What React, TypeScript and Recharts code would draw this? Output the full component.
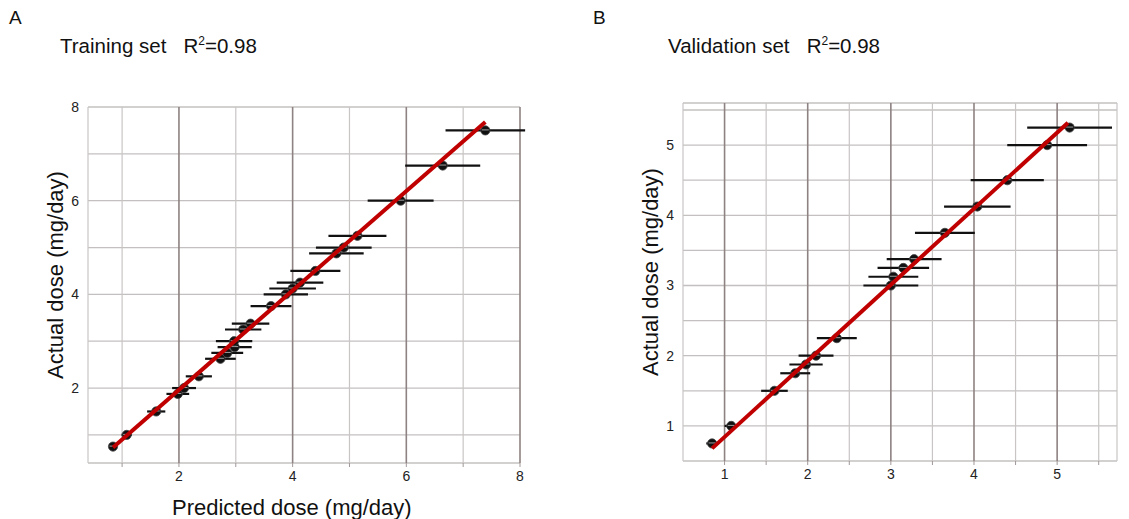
import React from "react";
import { ScatterChart, Scatter, XAxis, YAxis, CartesianGrid, ErrorBar } from "recharts";

// training set: actual dose vs predicted dose (+/- error on the prediction)
const trainActual = [0.75, 1, 1.5, 1.875, 2, 2.25, 2.625, 2.75, 2.875, 3, 3.25, 3.375, 3.75, 4, 4.125, 4.25, 4.5, 4.875, 5, 5.25, 6, 6.75, 7.5];
const trainPred = [0.84, 1.08, 1.6, 1.98, 2.09, 2.35, 2.73, 2.85, 2.98, 2.97, 3.13, 3.26, 3.62, 3.88, 4.0, 4.13, 4.4, 4.77, 4.9, 5.14, 5.9, 6.64, 7.39];
const trainErr = [0.05, 0.09, 0.16, 0.2, 0.21, 0.23, 0.27, 0.28, 0.3, 0.32, 0.32, 0.33, 0.36, 0.39, 0.41, 0.41, 0.44, 0.48, 0.49, 0.51, 0.58, 0.66, 0.7];
const trainFitX = [0.84, 7.39];
const trainFitY = [0.73, 7.68];

// validation set
const validActual = [0.75, 1, 1.5, 1.75, 1.875, 2, 2.25, 3, 3.125, 3.25, 3.375, 3.75, 4.125, 4.5, 5, 5.25];
const validPred = [0.85, 1.08, 1.6, 1.85, 1.98, 2.1, 2.35, 3.0, 3.03, 3.15, 3.28, 3.65, 4.04, 4.4, 4.88, 5.15];
const validErr = [0.07, 0.08, 0.16, 0.18, 0.2, 0.21, 0.24, 0.33, 0.3, 0.31, 0.33, 0.36, 0.4, 0.44, 0.48, 0.51];
const validFitX = [0.85, 5.13];
const validFitY = [0.68, 5.32];

const ticksA = [1, 2, 3, 4, 5, 6, 7, 8];
const ticksBx = [1, 1.5, 2, 2.5, 3, 3.5, 4, 4.5, 5, 5.5];
const ticksBy = [0.5, 1, 1.5, 2, 2.5, 3, 3.5, 4, 4.5, 5, 5.5];

const font = "'Liberation Sans', Arial, sans-serif";
const RED = "#c00000";

const toRows = (xs: number[], ys: number[], errs?: number[]) =>
  xs.map((x, i) => ({ x, y: ys[i], err: errs ? errs[i] : 0 }));

const Dot = (props: any) => {
  const { cx, cy } = props;
  if (cx == null || cy == null) return <g />;
  return (
    <g>
      <circle cx={cx} cy={cy} r={4.6} fill="#111" stroke="#444" strokeWidth={0.8} />
      <line x1={cx - 3.5} x2={cx + 3.5} y1={cy - 0.5} y2={cy - 0.5} stroke="#ddd" strokeWidth={0.7} />
    </g>
  );
};

const NoDot = () => <g />;

const gridLine = (isMajor: (i: number) => boolean) => (p: any) => {
  const major = isMajor(p.index);
  return (
    <line
      key={p.key}
      x1={p.x1}
      y1={p.y1}
      x2={p.x2}
      y2={p.y2}
      stroke={major ? "#8e8282" : "#c9c5c5"}
      strokeWidth={major ? 1.6 : 1.2}
    />
  );
};

const hLine = (p: any) => (
  <line key={p.key} x1={p.x1} y1={p.y1} x2={p.x2} y2={p.y2} stroke="#c4c0c0" strokeWidth={1.3} />
);

function Panel(props: {
  left: number;
  width: number;
  margin: { top: number; right: number; bottom: number; left: number };
  yWidth: number;
  xDomain: number[];
  yDomain: number[];
  xTicks: number[];
  yTicks: number[];
  label: (v: number) => string;
  majorX: (i: number) => boolean;
  rows: { x: number; y: number; err: number }[];
  fit: { x: number; y: number; err: number }[];
}) {
  const tickStyle = { fontSize: 14, fill: "#222", fontFamily: font };
  return (
    <div style={{ position: "absolute", left: props.left, top: 0 }}>
      <ScatterChart width={props.width} height={519} margin={props.margin}>
        <CartesianGrid vertical={gridLine(props.majorX)} horizontal={hLine} />
        <XAxis
          type="number"
          dataKey="x"
          domain={props.xDomain}
          ticks={props.xTicks}
          tickFormatter={props.label}
          allowDataOverflow
          axisLine={false}
          tickLine={{ stroke: "#a09898" }}
          tickSize={4}
          tickMargin={4}
          height={30}
          tick={tickStyle}
        />
        <YAxis
          type="number"
          dataKey="y"
          domain={props.yDomain}
          ticks={props.yTicks}
          tickFormatter={props.label}
          allowDataOverflow
          axisLine={false}
          tickLine={false}
          tickSize={0}
          tickMargin={9}
          width={props.yWidth}
          tick={tickStyle}
        />
        <Scatter data={props.rows} shape={Dot} isAnimationActive={false}>
          <ErrorBar dataKey="err" direction="x" width={0} stroke="#111" strokeWidth={2.2} />
        </Scatter>
        <Scatter
          data={props.fit}
          shape={NoDot}
          line={{ stroke: RED, strokeWidth: 4 }}
          isAnimationActive={false}
        />
      </ScatterChart>
    </div>
  );
}

export default function App() {
  const txt: React.CSSProperties = { position: "absolute", fontFamily: font, color: "#111", whiteSpace: "nowrap" };
  const yLab: React.CSSProperties = {
    ...txt,
    width: 300,
    textAlign: "center",
    fontSize: 22,
    lineHeight: "24px",
    transform: "rotate(-90deg)",
    transformOrigin: "center center",
  };
  const sup: React.CSSProperties = { fontSize: 12 };
  return (
    <div style={{ position: "absolute", left: 0, top: 0, width: 1129, height: 519, background: "#fff", overflow: "hidden" }}>
      <Panel
        left={0}
        width={560}
        margin={{ top: 107, right: 40, bottom: 26, left: 28 }}
        yWidth={60}
        xDomain={[0.4, 8]}
        yDomain={[0.4, 8]}
        xTicks={ticksA}
        yTicks={ticksA}
        label={(v) => (v % 2 === 0 ? String(v) : "")}
        majorX={(i) => ticksA[i] % 2 === 0}
        rows={toRows(trainPred, trainActual, trainErr)}
        fit={toRows(trainFitX, trainFitY)}
      />
      <Panel
        left={590}
        width={539}
        margin={{ top: 103, right: 12, bottom: 28, left: 33 }}
        yWidth={60}
        xDomain={[0.5, 5.72]}
        yDomain={[0.5, 5.6]}
        xTicks={ticksBx}
        yTicks={ticksBy}
        label={(v) => (Number.isInteger(v) ? String(v) : "")}
        majorX={(i) => Number.isInteger(ticksBx[i])}
        rows={toRows(validPred, validActual, validErr)}
        fit={toRows(validFitX, validFitY)}
      />

      <div style={{ ...txt, left: 9, top: 7, fontSize: 19 }}>A</div>
      <div style={{ ...txt, left: 60, top: 34, fontSize: 20.5 }}>
        Training set&nbsp;&nbsp;&nbsp;R<sup style={sup}>2</sup>=0.98
      </div>
      <div style={{ ...txt, left: 593, top: 7, fontSize: 19 }}>B</div>
      <div style={{ ...txt, left: 668, top: 34, fontSize: 20.5 }}>
        Validation set&nbsp;&nbsp;&nbsp;R<sup style={sup}>2</sup>=0.98
      </div>

      <div style={{ ...yLab, left: 56 - 150, top: 275 - 12 }}>Actual dose (mg/day)</div>
      <div style={{ ...yLab, left: 651 - 150, top: 272 - 12 }}>Actual dose (mg/day)</div>
      <div style={{ ...txt, left: 172, top: 495, fontSize: 22 }}>Predicted dose (mg/day)</div>
    </div>
  );
}
